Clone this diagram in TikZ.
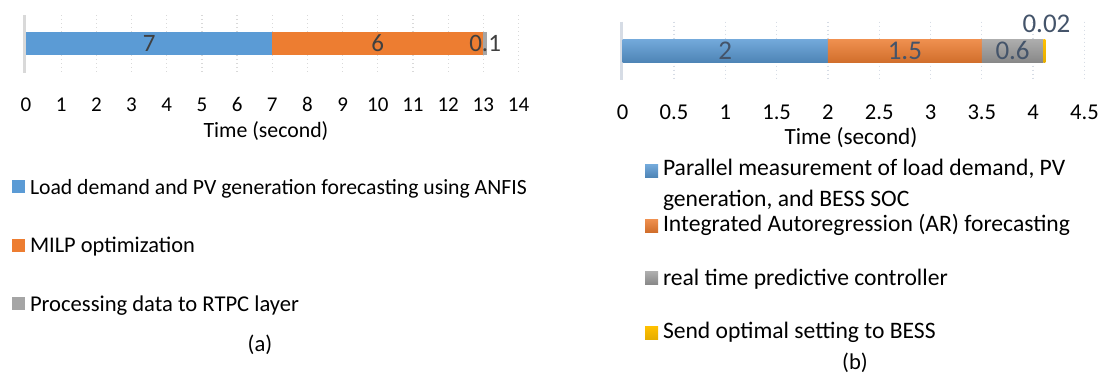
\documentclass[tikz,border=0pt]{standalone}
\usepackage{fontspec}
\setmainfont{Carlito}
\usepackage{xcolor}
\usetikzlibrary{positioning}

\definecolor{barblue}{HTML}{5B9BD5}
\definecolor{barorange}{HTML}{ED7D31}
\definecolor{bargray}{HTML}{A5A5A5}
\definecolor{baryellow}{HTML}{FFC000}
\definecolor{gridgray}{HTML}{D9D9D9}
\definecolor{gridslate}{HTML}{D6DCE5}
\definecolor{valdark}{HTML}{404040}
\definecolor{valslate}{HTML}{44546A}

\begin{document}
\begin{tikzpicture}[x=1pt,y=-1pt,
    every node/.style={inner sep=0pt, outer sep=0pt, font=\fontsize{21}{30}\selectfont},
    key/.style={minimum size=13pt},
    tick/.style={anchor=base},
    val/.style={anchor=base, font=\fontsize{25}{30}\selectfont},
    gridline/.style={line width=1.3pt, dash pattern=on 1.3pt off 2.7pt},
    legtext/.style={anchor=base west},
    bigtext/.style={font=\fontsize{22.6}{30}\selectfont},
    legB/.style={legtext, font=\fontsize{23.6}{30}\selectfont}]

  \useasboundingbox (0,0) rectangle (1113,378);

  % (a) ANFIS + MILP timeline
  \begin{scope}[shift={(26,0)}, x=35.18pt]
    \foreach \i in {1,...,14}
      \draw[gridline, draw=gridgray] (\i,15) -- (\i,72.7);
    \draw[gridgray, line width=2.2pt] ([xshift=-1.6pt]0,15) -- ([xshift=-1.6pt]0,72.7);

    \fill[barblue]   (0,31.7)  rectangle (7,55);
    \fill[barorange] (7,31.7)  rectangle (13,55);
    \fill[bargray]   (13,31.7) rectangle (13.1,55);

    \node (valA1) [val, text=valdark] at (3.5,51.7)  {7};
    \node (valA2) [val, text=valdark] at (10,51.7)   {6};
    \node (valA3) [val, text=valdark] at (13.05,51.7) {0.1};

    \foreach \i in {0,...,14}
      \node (tickA\i) [tick] at (\i,111.7) {\i};
    \node (timeA) [anchor=base, font=\fontsize{21.8}{30}\selectfont] at (6.82,137) {Time (second)};
  \end{scope}

  \node (keyA1) [key, fill=barblue]   at (18.5,186.7) {};
  \node (keyA2) [key, fill=barorange] at (18.5,245)   {};
  \node (keyA3) [key, fill=bargray]   at (18.5,303.7) {};
  \node (legA1) [right=5pt of keyA1, legtext, yshift=-7.3pt, font=\fontsize{21.7}{30}\selectfont] {Load demand and PV generation forecasting using ANFIS};
  \node (legA2) [right=5pt of keyA2, legtext, yshift=-7.3pt, font=\fontsize{22.4}{30}\selectfont] {MILP optimization};
  \node (legA3) [right=5pt of keyA3, legtext, yshift=-7.8pt, font=\fontsize{22.6}{30}\selectfont] {Processing data to RTPC layer};
  \node (capA) [anchor=base, bigtext] at (260,351.5) {(a)};

  % (b) AR forecasting + RTPC timeline
  \begin{scope}[shift={(622.7,0)}, x=102.6pt]
    \foreach \i in {0.5,1,...,4.5}
      \draw[gridline, draw=gridslate] (\i,21.7) -- (\i,80);
    \draw[gridslate, line width=2.6pt] ([xshift=-1.4pt]0,21.7) -- ([xshift=-1.4pt]0,80);

    \shade[top color=barblue!85!white, bottom color=barblue!85!black]     (0,39)   rectangle (2,62.7);
    \shade[top color=barorange!85!white, bottom color=barorange!88!black] (2,39)   rectangle (3.5,62.7);
    \shade[top color=bargray!90!white, bottom color=bargray!82!black]     (3.5,39) rectangle (4.1,62.7);
    \shade[top color=baryellow, bottom color=baryellow!90!black]          (4.1,39) rectangle (4.12,62.7);

    \node (valB1) [val, text=valslate, font=\fontsize{27}{30}\selectfont] at (1,59.3)    {2};
    \node (valB2) [val, text=valslate, font=\fontsize{27}{30}\selectfont] at (2.75,59.3) {1.5};
    \node (valB3) [val, text=valslate, font=\fontsize{27}{30}\selectfont] at (3.8,59.3)  {0.6};
    \node (valB4) [val, text=valslate, font=\fontsize{27}{30}\selectfont] at (4.13,32.7) {0.02};

    \foreach \v [count=\k] in {0,0.5,1,1.5,2,2.5,3,3.5,4,4.5}
      \node (tickB\k) [tick, bigtext] at (\v,119) {\v};
    \node (timeB) [anchor=base, font=\fontsize{23.2}{30}\selectfont] at (2.225,144.3) {Time (second)};
  \end{scope}

  \node (keyB1) [key, top color=barblue!85!white,   bottom color=barblue!85!black]   at (651.5,170.8) {};
  \node (keyB2) [key, top color=barorange!85!white, bottom color=barorange!88!black] at (651.5,225.5) {};
  \node (keyB3) [key, top color=bargray!90!white,   bottom color=bargray!82!black]   at (651.5,278)   {};
  \node (keyB4) [key, top color=baryellow,          bottom color=baryellow!90!black] at (651.5,333)   {};
  \node (legB1) [right=5pt of keyB1, legB, yshift=-5pt] {Parallel measurement of load demand, PV};
  \node (legB1b) [legB] at ([yshift=-31pt]legB1.base west) {generation, and BESS SOC};
  \node (legB2) [right=5pt of keyB2, legB, yshift=-6.2pt] {Integrated Autoregression (AR) forecasting};
  \node (legB3) [right=5pt of keyB3, legB, yshift=-7pt]   {real time predictive controller};
  \node (legB4) [right=5pt of keyB4, legB, yshift=-5.3pt] {Send optimal setting to BESS};
  \node (capB) [anchor=base, bigtext] at (855,369) {(b)};
\end{tikzpicture}
\end{document}
